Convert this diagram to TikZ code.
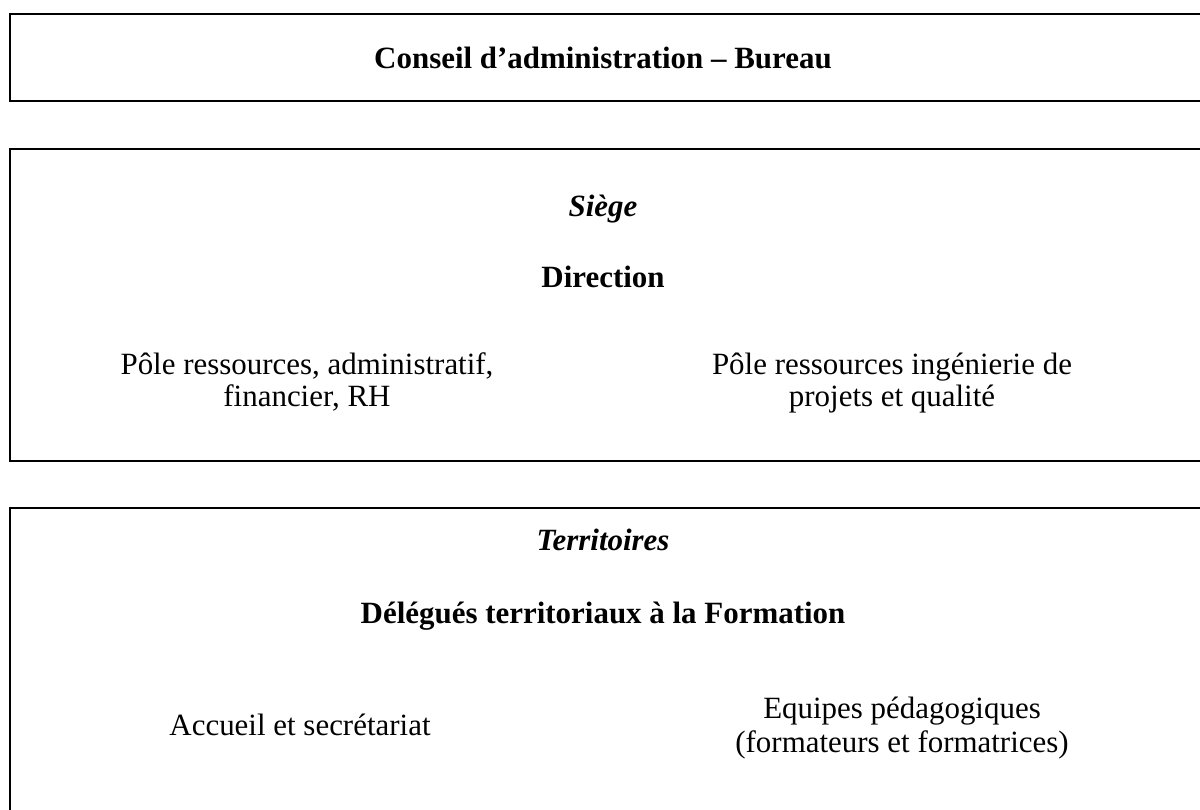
\documentclass[tikz,border=0pt]{standalone}
\usepackage{fontspec}
\setmainfont{Liberation Serif}
\usetikzlibrary{positioning}

\begin{document}
\begin{tikzpicture}[x=0.025cm,y=-0.025cm,
  frame/.style={line width=1.5pt},
  txt/.style={font=\fontsize{22}{28}\selectfont,anchor=base,inner sep=0pt},
  head/.style={txt,font=\fontsize{22}{28}\selectfont\bfseries},
  sub/.style={txt,font=\fontsize{22}{28}\selectfont\bfseries\itshape}]
\useasboundingbox (0,0) rectangle (1200,809);
\clip (0,0) rectangle (1200,809);
% Conseil
\draw[frame] (10,14) rectangle (1240,101);
\node[head] (conseil) at (603,68) {Conseil d’administration – Bureau};
% Siege
\draw[frame] (10,149) rectangle (1240,461);
\node[sub] (siege) at (603,216) {Siège};
\node[head] (direction) at (603,287) {Direction};
\node[txt] (admin1) at (307,374) {Pôle ressources, administratif,};
\node[txt] (admin2) at (307,406) {financier, RH};
\node[txt] (inge1) at (892,374) {Pôle ressources ingénierie de};
\node[txt] (inge2) at (892,406) {projets et qualité};
% Territoires
\draw[frame] (10,508) rectangle (1240,840);
\node[sub] (terr) at (603,550) {Territoires};
\node[head] (delegues) at (603,623) {Délégués territoriaux à la Formation};
\node[txt] (accueil) at (300,735) {Accueil et secrétariat};
\node[txt] (equipes1) at (902,718) {Equipes pédagogiques};
\node[txt] (equipes2) at (902,752) {(formateurs et formatrices)};
\end{tikzpicture}
\end{document}
